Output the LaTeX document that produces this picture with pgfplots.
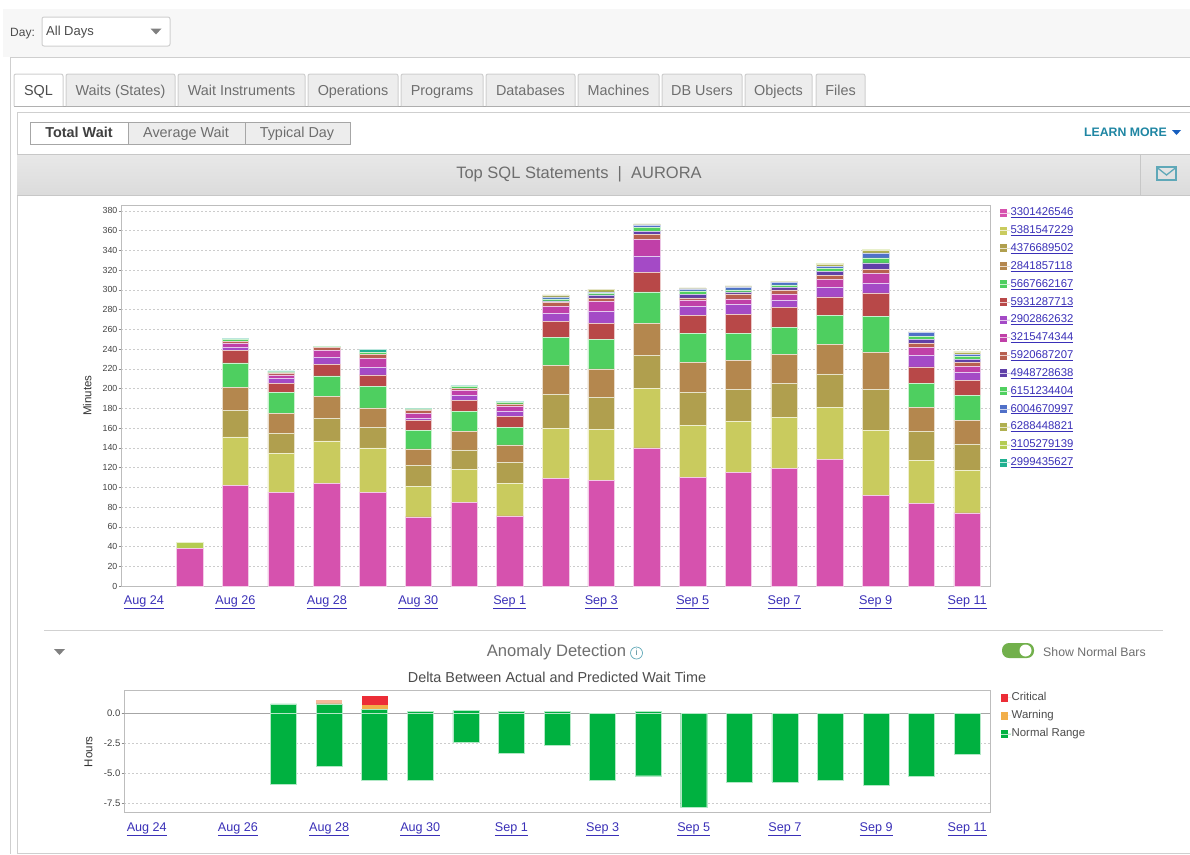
\documentclass[border=0pt]{standalone}
\usepackage{pgfplots}
\usepackage{pgfplotstable}
\usepackage{fontspec}
\setmainfont{Liberation Sans}
\pgfplotsset{compat=1.18}
\definecolor{c1}{HTML}{D652AE}
\definecolor{c2}{HTML}{C9CB5E}
\definecolor{c3}{HTML}{B09F4E}
\definecolor{c4}{HTML}{B4874E}
\definecolor{c5}{HTML}{4ECF60}
\definecolor{c6}{HTML}{B84848}
\definecolor{c7}{HTML}{A44AC6}
\definecolor{c8}{HTML}{C040A8}
\definecolor{c9}{HTML}{B86050}
\definecolor{c10}{HTML}{6040A8}
\definecolor{c11}{HTML}{50D060}
\definecolor{c12}{HTML}{5070C8}
\definecolor{c13}{HTML}{B0B050}
\definecolor{c14}{HTML}{B4CC52}
\definecolor{c15}{HTML}{20B090}
\definecolor{linkblue}{HTML}{3A30B8}
\definecolor{uitext}{HTML}{6E6E6E}
\definecolor{uiline}{HTML}{CFCFCF}
\definecolor{teal1}{HTML}{5FA8B8}
\definecolor{learn}{HTML}{1F86A3}
\definecolor{toggle}{HTML}{72B04C}
\definecolor{crit}{HTML}{EC2D37}
\definecolor{warn}{HTML}{F2AF4A}
\definecolor{norm}{HTML}{00B140}
\definecolor{salmon}{HTML}{F6B79A}
\newcommand{\fs}[1]{\fontsize{#1}{#1}\selectfont}
\pgfplotstableread{
d s1 s2 s3 s4 s5 s6 s7 s8 s9 s10 s11 s12 s13 s14 s15
1 38 0 0 0 0 0 0 0 0 0 0 0 0 6 0
2 102 49 27 23.5 24.5 12.5 3 4.5 2 0 1.5 0 0 0 1.5
3 95 39 21 20 21 9.5 5 3.5 2 0 1 0 0 0 1
4 104 43 23 22 21 11.5 7.5 6.5 3 0 1 0 0 0 0.5
5 95 45 21 19.5 21.5 12 7.5 9.5 4 0 2 0 0 0 3
6 70 31 21 17 19 9.5 2.5 5 3.5 0 1 0 0 0 0.5
7 85 33 20 19 20 11 5.5 4.5 2.5 0 1.5 0 0 0 1
8 71 33 21 18 18 11 5.5 4.5 2.5 0 1.5 0 0 0 1
9 109 51 34 29.5 28.2 16.3 8 7 4 2 2 2 2 0 0
10 107 52 32 29 29.6 16.4 12 10 4 3 1.5 1.5 2.5 0 0
11 140 60 34 32 32 20 16.5 16.5 5 3.5 3.5 3 1 0 0
12 110 53 33 30.5 29.5 18 9 7 2 3.5 3.5 2 1 0 0
13 115 52 32 29.5 27.5 19 10 6 5 2 2 3 1 0 0
14 119 52 34.5 29.5 27 20 8 6 4 2.5 2.5 3 1 0 0
15 128 53 34 29.5 29.5 19 10 8 4 4 3 2 2 1 0
16 92 66 41 37.5 37 23.5 10 10 4 6.5 5 5 2.5 1 0
17 84 43 30 24 24 17 11.5 8 4 4.5 3 4 0.5 0 0
18 74 43 27 24 25.5 15 8 6 4 3 3 2.5 1.5 1.5 0
}\stackdata
\pgfplotsset{
  swatch/.style={legend image code/.code={\path[##1,draw=none] (0pt,-4pt) rectangle (7pt,4pt);\path (0pt,0pt) -- (10pt,0pt);}},
  uiaxis/.style={
    scale only axis,
    anchor=south west,
    axis line style={draw=black!26,line width=1pt},
    tick align=outside,
    tick pos=left,
    major tick length=2.5pt,
    ytick style={draw=black!45,line width=0.5pt},
    xtick style={draw=none},
    ymajorgrids,
    major grid style={draw=black!20,line width=0.5pt,dash pattern=on 2pt off 2pt},
    xtick={0,2,...,18},
    xticklabels={\underline{Aug 24},\underline{Aug 26},\underline{Aug 28},\underline{Aug 30},\underline{Sep 1},\underline{Sep 3},\underline{Sep 5},\underline{Sep 7},\underline{Sep 9},\underline{Sep 11}},
    xticklabel style={font=\fs{12.6},text=linkblue,inner sep=0pt,yshift=-7pt},
    yticklabel style={font=\fs{8.8},text=black!75,inner sep=1pt},
    /pgf/number format/assume math mode=true,
    ylabel style={font=\fs{11.5},text=black!80},
    legend cell align=left,
  }
}
\begin{document}
\begin{tikzpicture}[x=1pt,y=1pt]
\begin{scope}[y=-1pt,every node/.append style={inner sep=0pt,text height=.74em,text depth=.22em,yshift=-2pt}]
\useasboundingbox (0,0) rectangle (1190,854);
\fill[white] (0,0) rectangle (1190,854);
% page strip and frames
\fill[black!3] (3,9) rectangle (1190,57);
\draw[uiline,line width=1pt] (1190,57) -- (10,57) -- (10,854);
\draw[uiline,line width=1pt] (17,854) -- (17,112.5) -- (1190,112.5);
\draw[uiline,line width=1pt] (17,853.5) -- (1190,853.5);
\draw[black!35,line width=0.8pt] (14,106) -- (1190,106);
% day selector
\node[anchor=west,text=black!70,font=\fs{12}] at (10,32) {Day:};
\path[fill=white,draw=uiline,line width=1pt,rounded corners=2pt] (42,17) rectangle (170,46);
\node[anchor=west,text=black!70,font=\fs{13}] at (46,30.5) {All Days};
\fill[black!50] (150.5,28.5) -- (161.5,28.5) -- (156,34.5) -- cycle;
% tabs
\foreach \a/\b/\t in {66/175/Waits (States),178/305/Wait Instruments,308/398/Operations,401/483/Programs,486/575/Databases,578/659/Machines,662/742/DB Users,745/812/Objects,816/865/Files}{
  \path[fill=black!7,draw=uiline,line width=1pt,rounded corners=2pt] (\a,106) -- (\a,74) -- (\b,74) -- (\b,106);
  \node[text=uitext,font=\fs{14.4}] at ({(\a+\b)/2},90.5) {\t};
}
\path[fill=white,draw=uiline,line width=1pt,rounded corners=2pt] (14,106) -- (14,74) -- (63,74) -- (63,106);
\node[text=black!70,font=\fs{14.4}] at (38.5,90.5) {SQL};
% buttons
\fill[white] (30,122) rectangle (128,144);
\fill[black!7] (128,122) rectangle (350,144);
\draw[black!35,line width=1pt] (30,122) rectangle (350,144);
\draw[black!35,line width=1pt] (128,122) -- (128,144) (245,122) -- (245,144);
\node[text=black!75,font=\bfseries\fs{14.4}] at (79,133) {Total Wait};
\node[text=uitext,font=\fs{14.4}] at (186,133) {Average Wait};
\node[text=uitext,font=\fs{14.4}] at (297,133) {Typical Day};
% learn more
\node[anchor=east,text=learn,font=\bfseries\fs{12.3}] at (1167,132) {LEARN MORE};
\fill[learn!70!blue] (1172,130) -- (1181,130) -- (1176.5,135) -- cycle;
% header band
\shade[top color=black!9,bottom color=black!14] (17,154) rectangle (1190,195);
\draw[black!22,line width=1pt] (17,154) -- (1190,154) (17,195) -- (1190,195) (1140,154) -- (1140,195);
\node[text=uitext,font=\fs{16.5}] at (579,173.5) {Top SQL Statements\ \ |\ \ AURORA};
\draw[teal1,line width=1.7pt] (1157,167) rectangle (1176,180);
\draw[teal1,line width=1.3pt] (1157,167.5) -- (1166.5,175) -- (1176,167.5);
% anomaly header
\draw[black!18,line width=1pt] (44,630) -- (1163,630);
\fill[black!50] (54,649) -- (65,649) -- (59.5,655) -- cycle;
\node[text=uitext,font=\fs{16.6}] at (556.5,652) {Anomaly Detection};
\draw[teal1,line width=0.7pt] (636.5,653) circle (6pt);
\node[text=teal1!80!black,font=\fs{9}] at (636.5,651) {i};
\path[fill=toggle,rounded corners=7pt] (1002,643) rectangle (1034,658);
\fill[white] (1025.5,650.5) circle (6pt);
\node[anchor=west,text=uitext,font=\fs{12.3}] at (1043,652) {Show Normal Bars};
\node[text=black!70,font=\fs{14.4}] at (557,678) {Delta Between Actual and Predicted Wait Time};
\end{scope}

% main chart
\begin{axis}[uiaxis,
  at={(121pt,-586pt)},
  width=869pt,height=380.5pt,
  xmin=-0.5,xmax=18.5,
  ymin=0,ymax=385.5,
  ybar stacked,bar width=26.5pt,
  ytick={0,20,...,380},
  ylabel={Minutes},
  ylabel style={at={(axis description cs:0,0.5)},anchor=south,yshift=26pt},
  legend style={at={(1.0115,0.994)},anchor=north west,draw=none,fill=none,inner sep=0pt,outer sep=0pt,
    font=\fs{11.3},text=linkblue,row sep=7.85pt,
    nodes={inner sep=0pt,text height=8pt,text depth=2pt}},
]
\foreach \i/\c in {1/c1,2/c2,3/c3,4/c4,5/c5,6/c6,7/c7,8/c8,9/c9,10/c10,11/c11,12/c12,13/c13,14/c14,15/c15}{
  \edef\tmp{\noexpand\addplot[swatch,fill=\c,draw=white!70!\c,line width=0.5pt] table[x=d,y=s\i]{\noexpand\stackdata};}
  \tmp
}
\legend{\underline{3301426546},\underline{5381547229},\underline{4376689502},\underline{2841857118},\underline{5667662167},\underline{5931287713},\underline{2902862632},\underline{3215474344},\underline{5920687207},\underline{4948728638},\underline{6151234404},\underline{6004670997},\underline{6288448821},\underline{3105279139},\underline{2999435627}}
\end{axis}

% anomaly chart
\begin{axis}[uiaxis,
  at={(124pt,-812.7pt)},
  width=866pt,height=122pt,
  xmin=-0.5,xmax=18.5,
  ymin=-8.28,ymax=1.88,
  ybar,bar width=26pt,bar shift=0pt,
  ytick={-7.5,-5,-2.5,0},
  yticklabel style={/pgf/number format/fixed,/pgf/number format/fixed zerofill,/pgf/number format/precision=1,font=\fs{9.5}},
  extra y ticks={0},extra y tick labels={},
  extra y tick style={grid=major,major grid style={draw=black!35,solid,line width=0.8pt}},
  ylabel={Hours},
  ylabel style={at={(axis description cs:0,0.5)},anchor=south,yshift=28pt},
  legend style={at={(1.0130,0.985)},anchor=north west,draw=none,fill=none,inner sep=0pt,outer sep=0pt,
    font=\fs{11.4},text=black!70,row sep=7.5pt,
    nodes={inner sep=0pt,text height=8pt,text depth=2.5pt}},
]
\addplot[swatch,fill=crit,draw=none] coordinates {(5,1.47)};
\addlegendentry{Critical}
\addplot[swatch,fill=warn,draw=none] coordinates {(5,0.67)};
\addlegendentry{Warning}
\addplot[fill=salmon,draw=none,forget plot] coordinates {(4,1.08)};
\addplot[swatch,fill=norm,draw=white!70!norm,line width=0.4pt] coordinates {(3,0.78)(4,0.78)(5,0.33)(6,0.17)(7,0.22)(8,0.17)(9,0.17)(11,0.19)};
\addlegendentry{Normal Range}
\addplot[fill=norm,draw=white!70!norm,line width=0.4pt,forget plot] coordinates {(3,-5.9)(4,-4.42)(5,-5.55)(6,-5.55)(7,-2.44)(8,-3.3)(9,-2.64)(10,-5.55)(11,-5.2)(12,-7.86)(13,-5.72)(14,-5.72)(15,-5.6)(16,-5.97)(17,-5.25)(18,-3.39)};
\end{axis}
\end{tikzpicture}
\end{document}
